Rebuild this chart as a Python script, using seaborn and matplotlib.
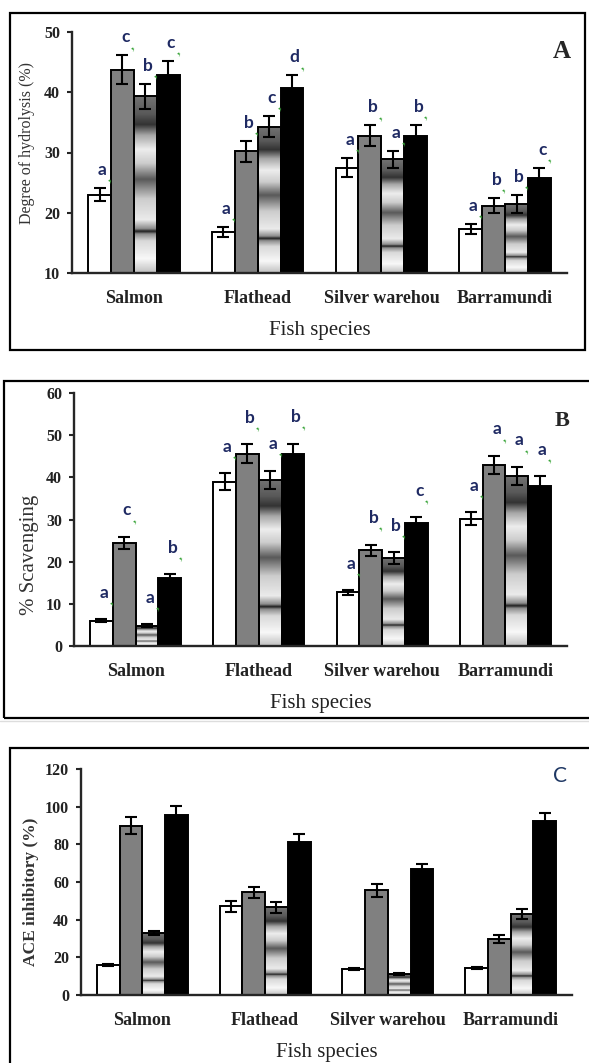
import numpy as np
import pandas as pd
import seaborn as sns
import matplotlib.pyplot as plt
from matplotlib.patches import Rectangle

species = ["Salmon", "Flathead", "Silver warehou", "Barramundi"]
treatments = ["T1", "T2", "T3", "T4"]

# A: degree of hydrolysis (%), one row per treatment
dh_means = [[23.0, 16.8, 27.5, 17.3],
            [43.7, 30.2, 32.8, 21.2],
            [39.3, 34.3, 28.9, 21.4],
            [42.9, 40.7, 32.7, 25.8]]
dh_errs = [[1.1, 0.9, 1.6, 0.8],
           [2.4, 1.7, 1.7, 1.2],
           [2.1, 1.8, 1.4, 1.5],
           [2.3, 2.1, 1.9, 1.6]]
dh_letters = [["a", "a", "a", "a"],
              ["c", "b", "b", "b"],
              ["b", "c", "a", "b"],
              ["c", "d", "b", "c"]]

# B: % scavenging
sc_means = [[6.0, 39.0, 12.7, 30.2],
            [24.4, 45.6, 22.7, 42.9],
            [4.8, 39.4, 20.9, 40.4],
            [16.1, 45.6, 29.2, 37.9]]
sc_errs = [[0.3, 2.0, 0.5, 1.5],
           [1.5, 2.3, 1.35, 2.2],
           [0.3, 2.2, 1.35, 2.1],
           [1.0, 2.4, 1.3, 2.3]]
sc_letters = [["a", "a", "a", "a"],
              ["c", "b", "b", "a"],
              ["a", "a", "b", "a"],
              ["b", "b", "c", "a"]]

# C: ACE inhibitory (%)
ace_means = [[16.0, 47.0, 13.7, 14.2],
             [89.9, 54.6, 55.5, 29.8],
             [32.8, 46.5, 11.0, 42.9],
             [95.7, 81.2, 66.8, 92.2]]
ace_errs = [[0.5, 2.7, 0.6, 0.6],
            [4.4, 3.0, 3.4, 2.0],
            [1.2, 2.8, 0.5, 2.6],
            [4.4, 4.3, 2.8, 4.4]]

bar_colors = ["white", "#808080", "#d0d0d0", "black"]

# "metallic" fill of the 3rd bar: fraction of bar height -> gray level
grad_pos = [0.0, 0.08, 0.18, 0.22, 0.235, 0.25, 0.3, 0.42, 0.53, 0.62, 0.7, 0.78, 0.84, 0.9, 1.0]
grad_gray = [0.75, 0.97, 0.85, 0.55, 0.12, 0.55, 0.92, 0.8, 0.35, 0.8, 0.93, 0.65, 0.2, 0.35, 0.45]

sns.set_style("ticks")
plt.rcParams["font.family"] = ["Liberation Serif", "DejaVu Serif"]

W, H = 589, 1063
fig = plt.figure(figsize=(W / 100, H / 100), dpi=100)


def px_axes(x0, x1, ytop, ybot):
    return fig.add_axes([x0 / W, 1 - ybot / H, (x1 - x0) / W, (ybot - ytop) / H])


def px_box(x0, x1, ytop, ybot):
    fig.add_artist(Rectangle((x0 / W, 1 - ybot / H), (x1 - x0) / W, (ybot - ytop) / H,
                             transform=fig.transFigure, fill=False, edgecolor="black",
                             linewidth=1.6))


def make_df(means):
    rows = []
    for t, vals in zip(treatments, means):
        for s, v in zip(species, vals):
            rows.append({"species": s, "treatment": t, "value": v})
    return pd.DataFrame(rows)


def draw_panel(ax, means, errs, letters, ymin, ymax, step, gap):
    sns.barplot(data=make_df(means), x="species", y="value", hue="treatment",
                palette=bar_colors, saturation=1, width=0.74, errorbar=None,
                edgecolor="black", linewidth=1.4, legend=False, ax=ax)
    grad = np.interp(np.linspace(0, 1, 300), grad_pos, grad_gray)
    bar_sets = list(ax.containers)
    for k, cont in enumerate(bar_sets):
        for j, bar in enumerate(cont):
            xc = bar.get_x() + bar.get_width() / 2
            top = bar.get_height()
            ax.errorbar(xc, top, yerr=errs[k][j], color="black", capsize=4,
                        elinewidth=1.5, capthick=1.5, zorder=5)
            if k == 2:
                lo = max(ymin, 0)
                im = ax.imshow(grad.reshape(-1, 1), cmap="gray", vmin=0, vmax=1,
                               origin="lower", aspect="auto",
                               extent=(bar.get_x(), bar.get_x() + bar.get_width(), lo, top),
                               zorder=bar.get_zorder() - 0.1)
                im.set_clip_path(bar)
                bar.set_facecolor("none")
            if letters is not None:
                y = top + errs[k][j]
                ax.annotate(letters[k][j], (xc, y), xytext=(2, gap), textcoords="offset points",
                            ha="center", va="center", fontsize=12.5, fontweight="bold",
                            family=["Lato", "DejaVu Sans"], color="#1f2a63", zorder=6,
                            annotation_clip=False)
                # little green squiggle under each letter, as in the original
                ax.annotate(",", (xc, y), xytext=(6.5, gap - 6), textcoords="offset points",
                            ha="center", va="center", fontsize=9, fontweight="bold",
                            color="#3aa53a", rotation=35, zorder=6, annotation_clip=False)
    ax.set_xlim(-0.5, 3.5)
    ax.set_ylim(ymin, ymax)
    ax.set_yticks(np.arange(ymin, ymax + 1, step))
    sns.despine(ax=ax)
    for s in ["left", "bottom"]:
        ax.spines[s].set_linewidth(1.7)
    ax.tick_params(axis="x", length=0, pad=12, labelsize=13)
    ax.tick_params(axis="y", length=3.5, width=1.5, labelsize=11.5, pad=5)
    for lab in ax.get_xticklabels() + ax.get_yticklabels():
        lab.set_fontweight("bold")
        lab.set_color("#222222")
    ax.set_xlabel("Fish species", fontsize=15, labelpad=10, color="#222222")


# panel A
px_box(10, 585, 13, 350)
axA = px_axes(72, 567, 32, 273)
draw_panel(axA, dh_means, dh_errs, dh_letters, 10, 50, 10, 13)
axA.set_ylabel("Degree of hydrolysis (%)", fontsize=11.5, color="#333333")
axA.yaxis.set_label_coords(-0.091, 0.54)
axA.yaxis.label.set_verticalalignment("center")
axA.text(0.99, 0.92, "A", transform=axA.transAxes, ha="center", va="center",
         fontsize=18, fontweight="bold")

# panel B
px_box(4, 600, 381, 718)
axB = px_axes(74, 567, 393, 646)
draw_panel(axB, sc_means, sc_errs, sc_letters, 0, 60, 10, 19)
axB.set_ylabel("% Scavenging", fontsize=15, color="#333333")
axB.yaxis.set_label_coords(-0.091, 0.36)
axB.yaxis.label.set_verticalalignment("center")
axB.text(0.99, 0.89, "B", transform=axB.transAxes, ha="center", va="center",
         fontsize=16, fontweight="bold")

# panel C
fig.add_artist(plt.Line2D([0, 1], [1 - 721 / H, 1 - 721 / H], transform=fig.transFigure,
                          color="#dddddd", linewidth=1))
px_box(10, 600, 748, 1080)
axC = px_axes(81, 572, 769, 995)
draw_panel(axC, ace_means, ace_errs, None, 0, 120, 20, 0)
axC.set_ylabel("ACE inhibitory (%)", fontsize=12.5, fontweight="bold", color="#333333")
axC.yaxis.set_label_coords(-0.102, 0.456)
axC.yaxis.label.set_verticalalignment("center")
axC.text(0.975, 0.97, "C", transform=axC.transAxes, ha="center", va="center",
         fontsize=15, family=["Lato", "DejaVu Sans"], color="#1f3864")

fig.savefig("out.png", dpi=100)
